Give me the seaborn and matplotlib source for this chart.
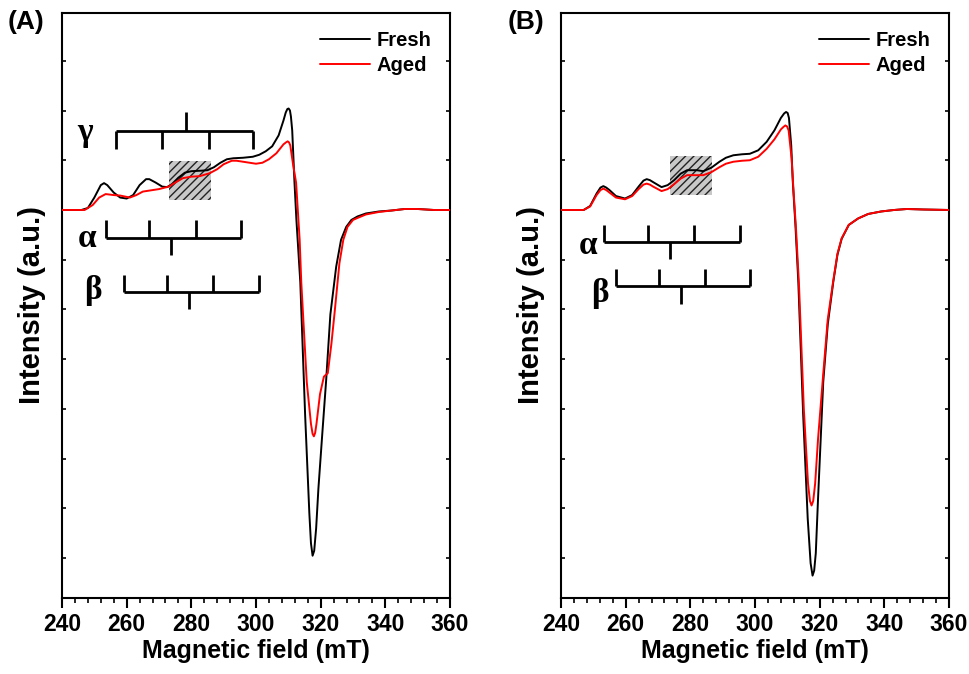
import numpy as np
import pandas as pd
import matplotlib
matplotlib.use('Agg')
import matplotlib.pyplot as plt
import seaborn as sns
from matplotlib.patches import Rectangle
from matplotlib.ticker import MultipleLocator

# ---------------------------------------------------------------
# EPR spectra (field in mT, intensity in a.u.)
# ---------------------------------------------------------------
field_A_fresh = [240, 246, 248, 250, 252, 253, 254, 256, 258, 260, 262, 264, 266, 267, 269, 271, 272.5,
                 274, 276, 278, 280, 283, 285, 287, 289, 291, 293, 296, 299, 301, 303, 305, 307, 308.5,
                 309.2, 309.7, 310.1, 310.5, 310.8, 311.2, 311.9, 312.5, 313.7, 315.2, 316.5, 317.0,
                 317.5, 318.0, 318.6, 319.3, 320.5,
                 321.7, 323, 324.8, 326.3, 327.9, 329.5, 331.4, 334, 338, 342, 346, 350, 355, 360]
int_A_fresh = [0, 0, 0.04, 0.25, 0.5, 0.54, 0.5, 0.35, 0.25, 0.23, 0.3, 0.5, 0.62, 0.62, 0.55, 0.47, 0.46,
               0.52, 0.65, 0.75, 0.78, 0.79, 0.8, 0.86, 0.95, 1.02, 1.04, 1.05, 1.07, 1.11, 1.18, 1.28, 1.5, 1.8,
               1.96, 2.03, 2.04, 2.0, 1.88, 1.6, 0.56, -0.2, -1.45, -4.13, -6.1, -6.7,
               -6.95, -6.85, -6.4, -5.6, -4.5,
               -3.42, -2.1, -1.14, -0.6, -0.34, -0.2, -0.13, -0.07, -0.03, -0.01, 0.02, 0.02, 0, 0]

field_A_aged = [240, 247, 249.5, 251.5, 253.5, 256, 258, 261, 263, 265, 268, 270, 273, 275, 277.4, 280,
                282.6, 285.7, 288, 290, 292.5, 294, 297, 300, 302, 304, 306.3, 308.5, 309.3, 309.8, 310.2,
                310.6, 311.5, 312.4, 313.5, 314, 315.7, 317, 317.5, 317.9, 318.3, 318.7, 319.8, 321, 322.2,
                323.3, 324.3, 325.8, 327, 328.3, 330, 331.4, 334, 338, 342, 346, 350, 355, 360]
int_A_aged = [0, 0, 0.1, 0.25, 0.32, 0.3, 0.29, 0.25, 0.3, 0.37, 0.4, 0.42, 0.47, 0.55, 0.64, 0.67,
              0.68, 0.74, 0.82, 0.92, 0.99, 0.99, 0.96, 0.93, 0.95, 1.02, 1.14, 1.32, 1.36, 1.38, 1.36,
              1.3, 0.9, 0.55, -0.6, -1.45, -3.46, -4.3, -4.5, -4.55, -4.48, -4.3, -3.7, -3.35, -3.28,
              -2.7, -2.07, -1.07, -0.6, -0.34, -0.2, -0.16, -0.09, -0.04, -0.01, 0.02, 0.02, 0, 0]

field_B_fresh = [240, 247, 249, 251, 252.2, 253.1, 254, 255, 257, 259.8, 262, 264, 265.5, 266.5, 267.5, 268.5,
                 271.1, 273, 275, 277, 279, 282, 284, 286.5, 289, 291, 293.3, 296, 298.4, 301, 303.6, 306,
                 308, 309, 309.6, 310.1, 310.5, 311.2, 311.7, 312.5, 313.4, 314.9, 316.3, 317.2, 317.8,
                 318.3, 318.8, 319.5, 321.1, 322.5, 324.2, 325.5, 326.8, 329, 331.9, 335, 339, 343, 347,
                 352, 360]
int_B_fresh = [0, 0, 0.08, 0.33, 0.45, 0.48, 0.45, 0.4, 0.28, 0.23, 0.3, 0.47, 0.59, 0.62, 0.6, 0.56,
               0.46, 0.5, 0.6, 0.73, 0.8, 0.8, 0.78, 0.85, 0.97, 1.05, 1.1, 1.12, 1.13, 1.2, 1.37, 1.6,
               1.85, 1.94, 1.97, 1.95, 1.85, 1.3, 0.56, -0.3, -1.45, -4.12, -6.2, -7.1, -7.35,
               -7.25, -6.9, -5.8, -3.46, -2.3, -1.45, -0.9, -0.58, -0.3, -0.17, -0.08, -0.03, 0, 0.02,
               0.01, 0]

field_B_aged = [240, 247, 249, 251, 252.2, 253.1, 254, 255, 257, 259.8, 262, 264, 265.5, 266.5, 267.5, 268.5,
                271.1, 273, 275, 277, 279, 282, 284, 286.5, 289, 291, 293.3, 296, 298.4, 301, 303.6, 306,
                308, 308.8, 309.4, 309.9, 310.4, 311.3, 311.9, 312.7, 313.6, 315.1, 316.4, 317.0, 317.5,
                318.0, 318.6, 319.5, 321.1, 322.5, 324.2, 325.5, 326.8, 329, 331.9, 335, 339, 343, 347,
                352, 360]
int_B_aged = [0, 0, 0.07, 0.3, 0.4, 0.43, 0.4, 0.35, 0.25, 0.215, 0.28, 0.42, 0.51, 0.53, 0.51, 0.47,
              0.38, 0.42, 0.52, 0.63, 0.7, 0.7, 0.7, 0.76, 0.86, 0.93, 0.97, 0.99, 1.0, 1.07, 1.23, 1.42,
              1.62, 1.67, 1.7, 1.68, 1.6, 1.05, 0.4, -0.4, -1.5, -4.0, -5.5, -5.85, -5.94,
              -5.85, -5.5, -4.6, -3.3, -2.2, -1.42, -0.88, -0.57, -0.3, -0.17, -0.08, -0.03, 0, 0.02,
              0.01, 0]

# hyperfine stick diagrams (line positions, mT) and centres
gamma_A = [256.7, 270.8, 285.4, 299.0]
gamma_A_centre = 278.3
alpha_A = [253.6, 266.9, 281.3, 295.5]
alpha_A_centre = 273.6
beta_A = [259.1, 272.5, 286.7, 300.8]
beta_A_centre = 279.2
alpha_B = [253.4, 266.8, 281.1, 295.3]
alpha_B_centre = 273.7
beta_B = [257.0, 270.4, 284.5, 298.6]
beta_B_centre = 277.0

# shaded region (mT)
box_A = [273.1, 286.2]
box_B = [273.7, 286.8]

x_ticks = [240, 260, 280, 300, 320, 340, 360]

# ---------------------------------------------------------------
sns.set_style('ticks')
plt.rcParams['font.family'] = ['Liberation Sans', 'DejaVu Sans']
plt.rcParams['font.weight'] = 'bold'
plt.rcParams['axes.labelweight'] = 'bold'
plt.rcParams['hatch.linewidth'] = 1.0
for key in ['text.color', 'axes.labelcolor', 'xtick.color', 'ytick.color', 'axes.edgecolor']:
    plt.rcParams[key] = 'black'

fig = plt.figure(figsize=(9.7, 6.74), dpi=100)
ax_A = fig.add_axes([62 / 970, 76 / 674, 388 / 970, 585 / 674])
ax_B = fig.add_axes([561 / 970, 76 / 674, 388 / 970, 585 / 674])


def comb(ax, pos, centre, y_line, y_tick, y_centre, label, x_label, y_label):
    # horizontal bar, four sticks and the centre mark
    ax.plot([pos[0], pos[-1]], [y_line, y_line], color='black', lw=2, solid_capstyle='butt', zorder=4)
    ax.vlines(pos, y_line, y_tick, color='black', lw=2, zorder=4)
    ax.vlines([centre], y_line, y_centre, color='black', lw=2, zorder=4)
    ax.text(x_label, y_label, label, fontsize=24, fontweight='bold', ha='center', va='center',
            family=['Liberation Serif', 'DejaVu Serif'])


def panel(ax, fx, fy, ax_, ay, box, box_y):
    df_f = pd.DataFrame({'field': fx, 'int': fy})
    df_a = pd.DataFrame({'field': ax_, 'int': ay})
    ax.add_patch(Rectangle((box[0], box_y[0]), box[1] - box[0], box_y[1] - box_y[0],
                           facecolor='#c8c8c8', edgecolor='#222222', linewidth=0, hatch='////', zorder=1))
    sns.lineplot(data=df_f, x='field', y='int', ax=ax, color='black', lw=1.4, sort=False,
                 estimator=None, label='Fresh', zorder=3)
    sns.lineplot(data=df_a, x='field', y='int', ax=ax, color='red', lw=1.4, sort=False,
                 estimator=None, label='Aged', zorder=3)
    ax.set_xlim(240, 360)
    ax.set_ylim(-7.8, 3.96)
    ax.set_xticks(x_ticks)
    ax.xaxis.set_minor_locator(MultipleLocator(4))
    ax.yaxis.set_major_locator(MultipleLocator(1))
    ax.set_yticklabels([])
    ax.tick_params(axis='x', which='major', direction='out', length=7, width=1.5, labelsize=16.5, pad=4)
    ax.tick_params(axis='x', which='minor', direction='out', length=3.5, width=1.2)
    ax.tick_params(axis='y', which='major', direction='in', length=3, width=1.2, left=True, right=True)
    for lab in ax.get_xticklabels():
        lab.set_fontweight('bold')
    for sp in ax.spines.values():
        sp.set_visible(True)
        sp.set_linewidth(1.5)
    ax.set_xlabel('Magnetic field (mT)', fontsize=18, fontweight='bold', labelpad=2)
    ax.set_ylabel('Intensity (a.u.)', fontsize=21, fontweight='bold', labelpad=8)
    leg = ax.legend(loc='upper right', frameon=False, handlelength=2.5, handletextpad=0.35,
                    labelspacing=0.3, prop={'size': 14.5, 'weight': 'bold'})
    for h in leg.get_lines():
        h.set_linewidth(1.4)


panel(ax_A, field_A_fresh, int_A_fresh, field_A_aged, int_A_aged, box_A, (0.21, 0.98))
panel(ax_B, field_B_fresh, int_B_fresh, field_B_aged, int_B_aged, box_B, (0.31, 1.08))

comb(ax_A, gamma_A, gamma_A_centre, 1.58, 1.22, 1.97, 'γ', 247.1, 1.55)
comb(ax_A, alpha_A, alpha_A_centre, -0.56, -0.21, -0.91, 'α', 247.6, -0.58)
comb(ax_A, beta_A, beta_A_centre, -1.65, -1.30, -2.0, 'β', 249.7, -1.62)
comb(ax_B, alpha_B, alpha_B_centre, -0.64, -0.30, -0.98, 'α', 248.4, -0.71)
comb(ax_B, beta_B, beta_B_centre, -1.52, -1.19, -1.89, 'β', 252.1, -1.68)

fig.text(8 / 970, 1 - 22 / 674, '(A)', fontsize=19, fontweight='bold', va='center', ha='left')
fig.text(508 / 970, 1 - 22 / 674, '(B)', fontsize=19, fontweight='bold', va='center', ha='left')

fig.savefig('out.png', dpi=100)
